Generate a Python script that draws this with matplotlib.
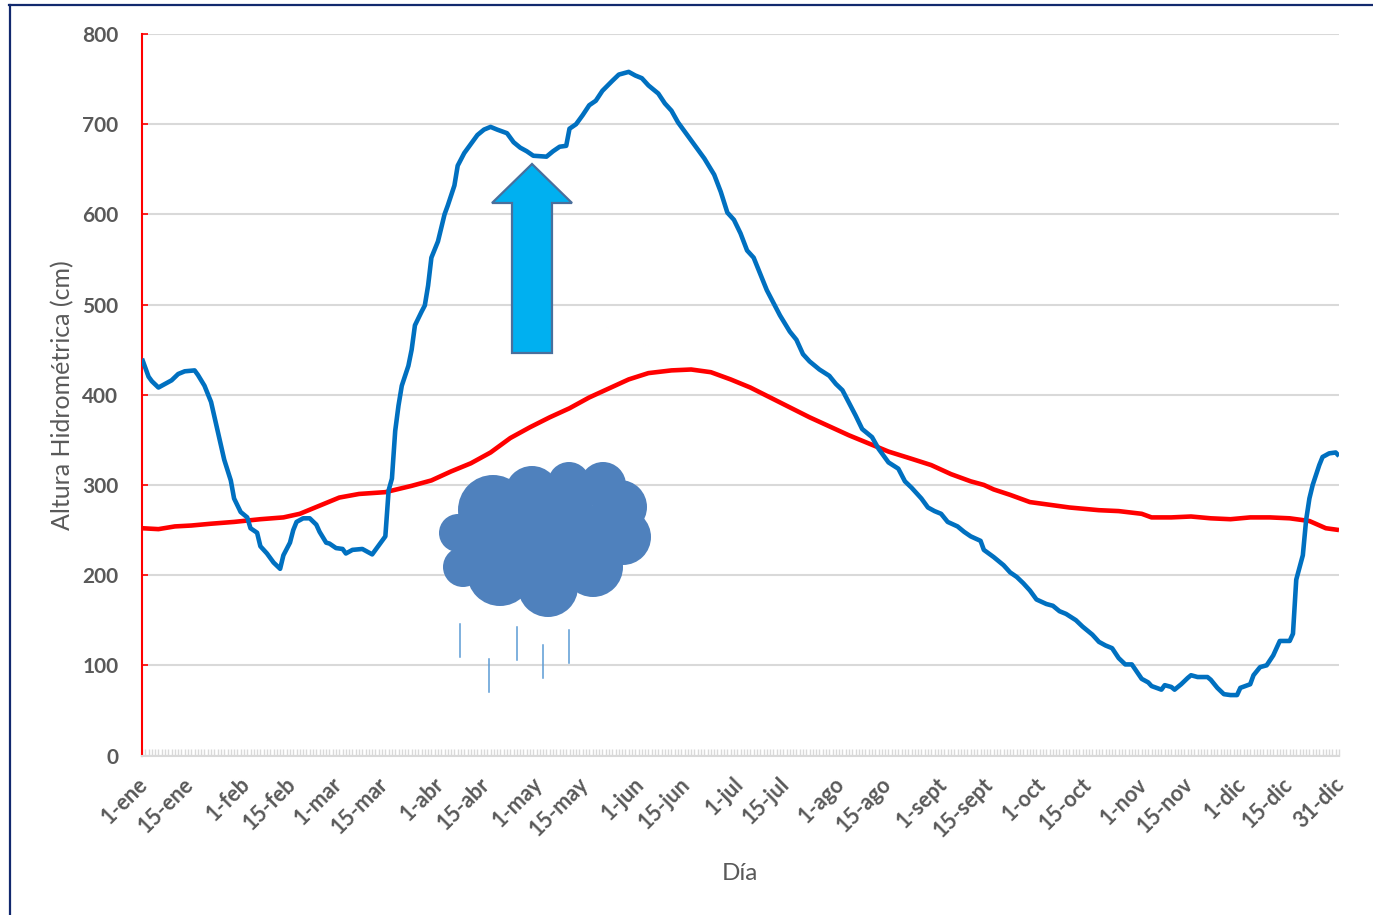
import matplotlib
matplotlib.use("Agg")
import matplotlib.pyplot as plt
from matplotlib.patches import Circle, Polygon, Rectangle
from matplotlib.transforms import ScaledTranslation

blue_days = [1,3,4,6,7,10,12,14,17,18,20,22,24,26,28,29,31,33,34,36,37,39,41,43,44,46,47,48,50,52,54,55,57,58,60,62,63,65,68,69,71,73,75,76,77,78,79,80,82,83,84,86,87,88,89,91,93,94,96,97,99,101,103,105,107,109,112,114,116,118,120,124,126,128,130,131,133,135,137,139,141,144,146,149,151,153,155,158,160,162,164,166,169,172,175,177,179,181,183,185,187,189,191,193,195,198,200,202,204,207,210,212,214,216,218,220,223,225,228,231,233,235,238,240,242,244,246,249,251,253,256,257,260,263,265,267,269,271,273,276,278,280,282,285,287,290,292,294,296,298,300,302,305,307,308,311,312,314,315,317,319,320,322,325,326,328,330,332,334,335,338,339,341,343,345,346,347,350,351,352,354,355,356,357,359,360,362,364,365]
blue_cm = [440,420,415,408,410,416,423,426,427,422,410,392,360,328,305,285,270,264,252,247,232,224,214,207,222,236,250,259,263,263,256,248,236,235,230,229,224,228,229,227,223,233,243,294,307,360,388,410,432,450,477,492,499,521,552,570,600,610,632,654,668,678,688,694,697,694,690,680,674,670,665,664,670,675,676,695,700,710,721,726,737,748,755,758,754,751,743,734,723,715,702,692,677,662,644,625,602,594,579,560,552,534,516,502,488,470,461,445,437,428,421,412,405,391,377,362,353,340,325,318,304,297,285,275,271,268,259,254,248,243,238,228,220,211,203,198,191,183,173,168,166,160,157,150,143,134,126,122,119,108,101,101,85,81,77,73,78,76,73,79,86,89,87,87,84,75,68,67,67,75,79,89,98,100,111,119,127,127,135,195,222,261,285,300,322,331,335,336,332]

red_days = [1,6,11,16,22,29,37,44,49,55,61,67,75,83,89,95,101,107,113,119,125,131,137,143,149,155,162,168,174,180,186,192,198,204,210,216,222,228,235,241,247,253,257,260,265,271,277,283,292,298,305,308,314,320,326,332,338,344,350,356,361,365]
red_cm = [252,251,254,255,257,259,262,264,268,277,286,290,292,299,305,315,324,336,352,364,375,385,397,407,417,424,427,428,425,417,408,397,386,375,365,355,346,337,329,322,312,304,300,295,289,281,278,275,272,271,268,264,264,265,263,262,264,264,263,260,252,250]

tick_days = [1,15,32,46,60,74,91,105,121,135,152,166,182,196,213,227,244,258,274,288,305,319,335,349,365]
tick_labels = ['1-ene','15-ene','1-feb','15-feb','1-mar','15-mar','1-abr','15-abr','1-may','15-may','1-jun','15-jun','1-jul','15-jul','1-ago','15-ago','1-sept','15-sept','1-oct','15-oct','1-nov','15-nov','1-dic','15-dic','31-dic']
y_ticks = [0,100,200,300,400,500,600,700,800]

W, H = 1373, 915
plt.rcParams['font.family'] = ['Lato', 'DejaVu Sans']
fig = plt.figure(figsize=(W/100, H/100), dpi=100, facecolor='white')
ax = fig.add_axes([142/W, 1-755.5/H, (1339-142)/W, (755.5-34)/H])
ax.set_xlim(1, 365)
ax.set_ylim(0, 800)
ax.grid(axis='y', color='#D9D9D9', lw=1.5, zorder=0)
ax.set_axisbelow(True)
ax.plot(red_days, red_cm, color='#FF0000', lw=3.3, zorder=3, solid_capstyle='butt')
ax.plot(blue_days, blue_cm, color='#0070C0', lw=3.3, zorder=4, solid_capstyle='butt')

for s in ['top', 'right']:
    ax.spines[s].set_visible(False)
ax.spines['left'].set_color('#FF0000')
ax.spines['left'].set_linewidth(1.5)
ax.spines['bottom'].set_color('#D9D9D9')
ax.spines['bottom'].set_linewidth(1.5)

ax.set_yticks(y_ticks)
ax.tick_params(axis='y', direction='in', length=4, width=1.2, color='#FF0000',
               labelsize=15, labelcolor='#595959', pad=17)
for t in ax.get_yticklabels():
    t.set_fontweight('bold')
ax.set_xticks(tick_days)
ax.set_xticklabels(tick_labels, rotation=45, ha='right', rotation_mode='anchor',
                   fontsize=15.5, fontweight='bold', color='#595959')
ax.set_xticks(range(1, 366), minor=True)
ax.tick_params(axis='x', which='major', length=5, width=1.0, direction='in', color='#D9D9D9', pad=13)
ax.tick_params(axis='x', which='minor', length=5, width=1.0, direction='in', color='#D9D9D9')
shift_left = ScaledTranslation(-5/100, 0, fig.dpi_scale_trans)
for t in ax.get_xticklabels():
    t.set_transform(t.get_transform() + shift_left)

ov = fig.add_axes([0, 0, 1, 1], facecolor='none')
ov.set_xlim(0, W)
ov.set_ylim(H, 0)
ov.axis('off')

cloud = [(458,533,19),(463,567,20),(500,573,33),(548,587,30),(593,567,30),(623,537,28),
         (620,507,27),(603,485,23),(569,483,21),(532,493,27),(493,510,35),(548,537,55)]
for cx, cy, r in cloud:
    ov.add_patch(Circle((cx, cy), r, fc='#4F81BD', ec='none', zorder=5))
ov.add_patch(Rectangle((465, 510), 145, 65, fc='#4F81BD', ec='none', zorder=5))

for rx, y0, y1 in [(460,624,657),(489,659,692),(517,627,660),(543,645,678),(569,630,663)]:
    ov.plot([rx, rx], [y0, y1], color='#5B9BD5', lw=1.1, zorder=5)

ov.add_patch(Polygon([(532,164),(572,203),(552,203),(552,353),(512,353),(512,203),(492,203)],
                     closed=True, fc='#00B0F0', ec='#4A6F9C', lw=1.6, zorder=6))

ov.plot([9.5, 9.5], [5, H], color='#12296E', lw=1.6, zorder=7)
ov.plot([9, W], [5, 5], color='#12296E', lw=1.6, zorder=7)

ov.text(63, 395, 'Altura Hidrométrica (cm)', rotation=90, ha='center', va='center',
        fontsize=18, color='#595959')
ov.text(740, 873, 'Día', ha='center', va='center', fontsize=17.5, color='#595959')

fig.savefig('out.png', dpi=100, facecolor='white')
